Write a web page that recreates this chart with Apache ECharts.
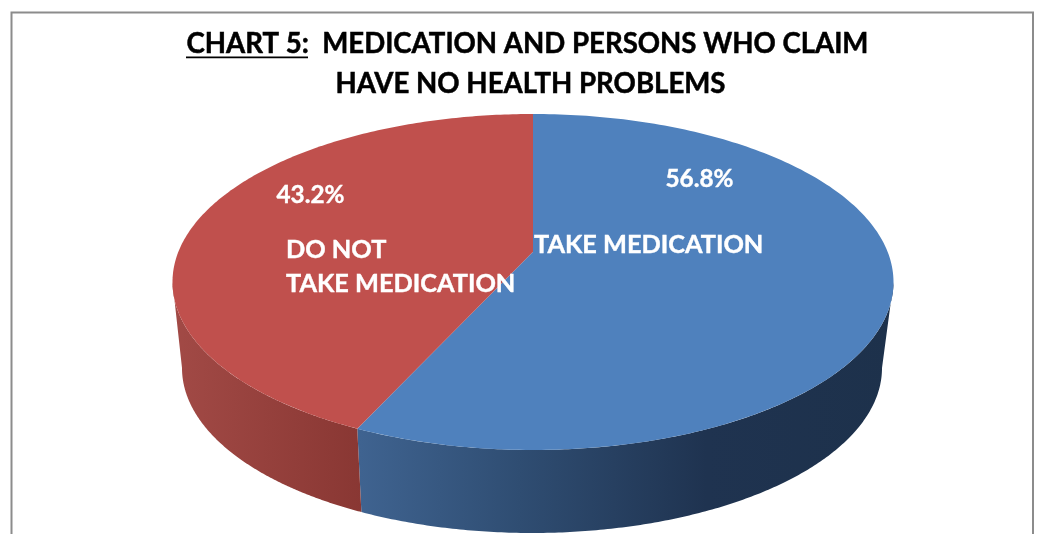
<!DOCTYPE html>
<html><head><meta charset="utf-8">
<style>html,body{margin:0;padding:0;background:#fff}#c{width:1039px;height:534px}</style>
<script src="https://cdn.jsdelivr.net/npm/echarts@6/dist/echarts.min.js"></script>
</head><body><div id="c"></div>
<script>
const categories = ['TAKE MEDICATION', 'DO NOT\nTAKE MEDICATION'];
const values = [56.8, 43.2];
const valueLabels = ['56.8%', '43.2%'];
const titleLines = ['CHART 5:  MEDICATION AND PERSONS WHO CLAIM', 'HAVE NO HEALTH PROBLEMS'];

const colors = ['#4F81BD', '#C0504D'];
const top_ = {cx: 533, cy: 282, rx: 360.5, ry: 168};
const bot = {cx: 532, cy: 368, rx: 350, ry: 165};
const skew = 0.18; // perspective: the apex sits above the ellipse centre
const catPos = [[534, 245], [286, 267]];
const valPos = [[699.5, 179], [310.5, 195]];

const total = values.reduce((a, b) => a + b, 0);
function range(i) {
  let s = 0;
  for (let k = 0; k < i; k++) s += values[k];
  return [s / total * 2 * Math.PI, (s + values[i]) / total * 2 * Math.PI];
}
function rim(e, phi) {
  const x = Math.sin(phi), y = Math.cos(phi), den = 1 + skew * y;
  const X = x * Math.sqrt(1 - skew * skew) / den, Y = (y + skew) / den;
  return [e.cx + X * e.rx, e.cy - Y * e.ry];
}
function arc(e, a, b, n) {
  const out = [];
  for (let i = 0; i <= n; i++) out.push(rim(e, a + (b - a) * i / n));
  return out;
}
// The wall is visible only between the rim's right-most and left-most points.
const frontStart = Math.acos(-skew);
const frontEnd = 2 * Math.PI - frontStart;
const sideFill = [
  new echarts.graphic.LinearGradient(360, 0, 893, 0, [
    {offset: 0, color: '#3F6390'}, {offset: 0.3, color: '#2F4D72'},
    {offset: 0.65, color: '#1F3350'}, {offset: 1, color: '#1D314B'}], true),
  new echarts.graphic.LinearGradient(172, 0, 362, 0, [
    {offset: 0, color: '#A24A46'}, {offset: 1, color: '#893733'}], true)
];
const font = 'Lato, Carlito, sans-serif';
const titleStyle = {fontFamily: font, fontWeight: 'bold', fontSize: 27.6, color: '#000',
  textBorderColor: '#000', textBorderWidth: 0.5};
const option = {
  animation: false,
  backgroundColor: '#fff',
  title: [
    {text: titleLines[0], left: 522.5, top: 25, textAlign: 'center', textStyle: titleStyle},
    {text: titleLines[1], left: 525.5, top: 65, textAlign: 'center', textStyle: titleStyle}
  ],
  graphic: [
    {type: 'rect', silent: true, z: 0, shape: {x: 11.5, y: 12.5, width: 1021.5, height: 560},
     style: {fill: '#fff', stroke: '#8C8C8C', lineWidth: 2}},
    {type: 'rect', silent: true, z: 10, shape: {x: 186, y: 56.5, width: 122, height: 1.8}, style: {fill: '#000'}}
  ],
  series: [
    {type: 'custom', coordinateSystem: 'none', z: 2, silent: true, data: values,
     renderItem(p) {
       const [a0, b0] = range(p.dataIndex);
       const a = Math.max(a0, frontStart), b = Math.min(b0, frontEnd);
       return {type: 'polygon',
         shape: {points: arc(top_, a, b, 200).concat(arc(bot, a, b, 200).reverse())},
         style: {fill: sideFill[p.dataIndex]}};
     }},
    {type: 'custom', coordinateSystem: 'none', z: 3, silent: true, data: values,
     renderItem(p) {
       const i = p.dataIndex, [a, b] = range(i);
       const apex = [top_.cx, top_.cy - skew * top_.ry];
       const txt = (text, x, y, align, size) => ({type: 'text', z2: 5, style: {
         text, x, y, align, verticalAlign: 'middle', fill: '#fff',
         font: 'bold ' + size + 'px ' + font, lineHeight: 34, stroke: '#fff', lineWidth: 0.4}});
       return {type: 'group', children: [
         {type: 'polygon', shape: {points: [apex].concat(arc(top_, a, b, 200))}, style: {fill: colors[i]}},
         txt(categories[i], catPos[i][0], catPos[i][1], 'left', 25.3),
         txt(valueLabels[i], valPos[i][0], valPos[i][1], 'center', 24.3)
       ]};
     }}
  ]
};
echarts.init(document.getElementById('c')).setOption(option);
</script></body></html>
